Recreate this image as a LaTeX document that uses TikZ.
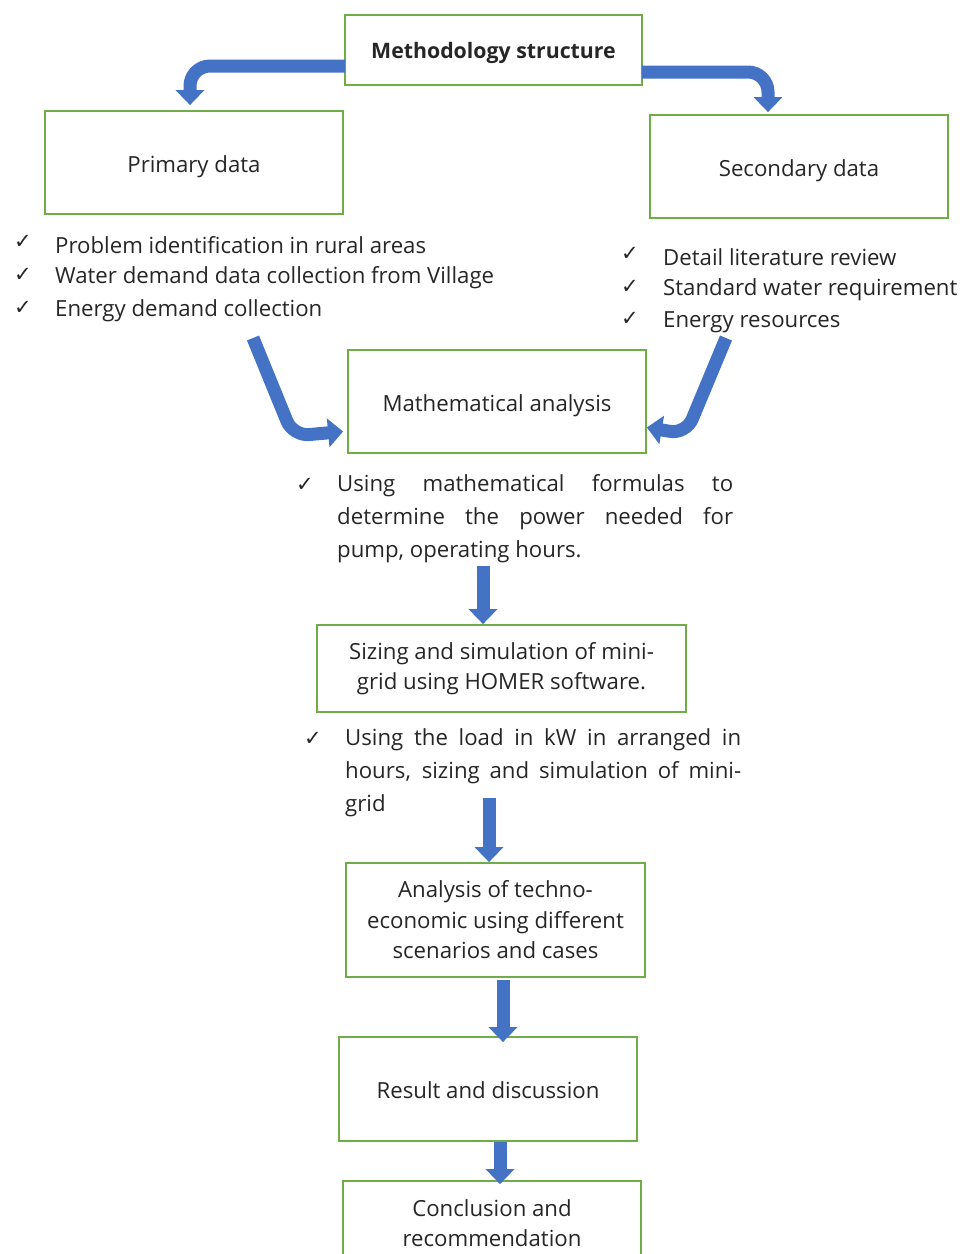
\documentclass[tikz,border=0pt]{standalone}
\usepackage{fontspec}
\setmainfont{Open Sans}[Ligatures=NoCommon]
\newfontfamily\symfont{DejaVu Sans}
\usetikzlibrary{arrows.meta,calc}
\definecolor{boxgreen}{RGB}{112,173,71}
\definecolor{arrblue}{RGB}{68,114,196}
\definecolor{txt}{RGB}{38,38,38}
\newcommand{\fs}{\fontsize{22.2}{30.5}\selectfont}
\tikzset{
  box/.style={draw=boxgreen, line width=1.8pt, fill=white, align=center, text=txt,
    font=\fs, inner sep=2pt},
  onel/.style={text height=25pt, text depth=5.3pt},
  arr/.style={draw=arrblue, line width=13pt, -{Triangle[width=28pt,length=15pt]}},
  lst/.style={anchor=west, text=txt, font=\fs, inner sep=0pt},
  chk/.style={anchor=center, text=txt, font=\symfont\fontsize{21}{24}\selectfont, inner sep=0pt},
}
\newcommand{\jline}[1]{\makebox[396pt][s]{#1}}
\begin{document}
\begin{tikzpicture}[x=1pt,y=-1pt]
\useasboundingbox (0,0) rectangle (962,1254);
\clip (0,0) rectangle (962,1254);
\fill[white] (0,0) rectangle (962,1254);
% boxes
\node[box, onel, text height=22pt, minimum width=297pt, minimum height=70pt, font=\bfseries\fontsize{21.3}{30}\selectfont] (meth) at (493.5,50) {Methodology structure};
\node[box, onel, minimum width=298pt, minimum height=103pt] (prim) at (194,162.5) {Primary data};
\node[box, onel, minimum width=298pt, minimum height=103pt] (sec) at (799,166.5) {Secondary data};
\node[box, onel, minimum width=298pt, minimum height=103pt] (math) at (497,401.5) {Mathematical analysis};
\node[box, minimum width=369pt, minimum height=87pt] (size) at (501.5,668.5) {Sizing and simulation of mini-\\grid using HOMER software.};
\node[box, minimum width=299pt, minimum height=114pt] (anal) at (495.5,920) {Analysis of techno-\\economic using different\\scenarios and cases};
\node[box, onel, minimum width=298pt, minimum height=104pt] (res) at (488,1089) {Result and discussion};
\node[box, minimum width=298pt, minimum height=104pt] (conc) at (492,1233) {};
\node[text=txt, font=\fs, align=center] (conct) at (492,1223) {Conclusion and\\recommendation};
% lists
\node[chk] (c1) at (23,242) {✓};
\node[chk] (c2) at (23,275) {✓};
\node[chk] (c3) at (23,308) {✓};
\node[lst] (l1) at (55,245) {Problem identification in rural areas};
\node[lst] (l2) at (55,278) {Water demand data collection from Village};
\node[lst] (l3) at (55,311) {Energy demand collection};
\node[chk] (c4) at (630,254) {✓};
\node[chk] (c5) at (630,287) {✓};
\node[chk] (c6) at (630,319) {✓};
\node[lst] (r1) at (663,257) {Detail literature review};
\node[lst] (r2) at (663,290) {Standard water requirement};
\node[lst] (r3) at (663,322) {Energy resources};
% paragraphs
\node[chk] (c7) at (305,485) {✓};
\node[anchor=north west, text=txt, font=\fontsize{22.2}{33}\selectfont, inner sep=0pt, align=left] (p1) at (337,474)
  {\jline{Using mathematical formulas to}\\\jline{determine the power needed for}\\pump, operating hours.};
\node[chk] (c8) at (313,739) {✓};
\node[anchor=north west, text=txt, font=\fontsize{22.2}{33}\selectfont, inner sep=0pt, align=left] (p2) at (345,728)
  {\jline{Using the load in kW in arranged in}\\\jline{hours, sizing and simulation of mini-}\\grid};
% arrows
\draw[arr, rounded corners=20pt] ($(meth.west)+(1,16)$) -| ($(prim.north)+(-4,-5)$);
\draw[arr, rounded corners=20pt] ($(meth.east)+(-1,22)$) -| ($(sec.north)+(-31,-2)$);
\coordinate (ls) at (253,338);
\coordinate (rs) at (726,338);
\draw[arr, rounded corners=16pt] (ls) -- (293,436) -- ($(math.west)+(-4,30)$);
\draw[arr, rounded corners=16pt] (rs) -- (686,434) -- ($(math.east)+(0,26)$);
\coordinate (a1) at (483,566);
\coordinate (a2) at (489,798);
\coordinate (a3) at (503,980);
\coordinate (a4) at (500,1142);
\draw[arr] (a1) -- (a1 |- size.north);
\draw[arr] (a2) -- (a2 |- anal.north);
\draw[arr] (a3) -- ($(a3 |- res.north)+(0,6)$);
\draw[arr] (a4) -- ($(a4 |- conc.north)+(0,4)$);
\end{tikzpicture}
\end{document}
